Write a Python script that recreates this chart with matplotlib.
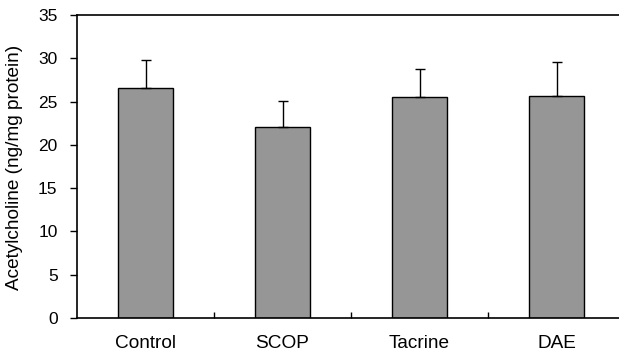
import matplotlib
matplotlib.use("Agg")
import matplotlib.pyplot as plt
import numpy as np

categories = ["Control", "SCOP", "Tacrine", "DAE"]
means = [26.6, 22.1, 25.5, 25.6]
errors = [3.15, 2.95, 3.25, 3.95]
yticks = [0, 5, 10, 15, 20, 25, 30, 35]

plt.rcParams['font.family'] = ['Liberation Sans', 'DejaVu Sans']

W, H = 619, 358
fig = plt.figure(figsize=(W / 100, H / 100), dpi=100)
left, right, bottom, top = 77, 625, 318, 15
ax = fig.add_axes([left / W, (H - bottom) / H, (right - left) / W, (bottom - top) / H])

x = np.arange(len(categories))
ax.bar(x, means, width=0.395, color='#969696', edgecolor='black', linewidth=1.0, zorder=2)
ax.errorbar(x, means, yerr=[np.zeros(len(errors)), errors], fmt='none', ecolor='black',
            elinewidth=1.0, capsize=3.6, capthick=1.0, zorder=3)

ax.set_xlim(-0.5, len(categories) - 0.5)
ax.set_ylim(0, 35)
ax.set_yticks(yticks)
ax.set_yticklabels([str(v) for v in yticks], fontsize=12.5)
ax.tick_params(axis='y', direction='out', length=5, width=1.0, pad=9)

# category labels at centers, boundary ticks pointing inside
ax.set_xticks(x)
ax.set_xticklabels(categories, fontsize=13.7)
ax.tick_params(axis='x', which='major', length=0, pad=12)
ax.set_xticks(np.arange(0.5, len(categories) - 0.5, 1.0), minor=True)
ax.tick_params(axis='x', which='minor', direction='in', length=4, width=1.0)

for s in ax.spines.values():
    s.set_linewidth(1.2)

fig.text(14.5 / W, 1 - 167 / H, "Acetylcholine (ng/mg protein)", rotation=90,
         ha='center', va='center', fontsize=13.7)

fig.savefig("out.png", dpi=100)
